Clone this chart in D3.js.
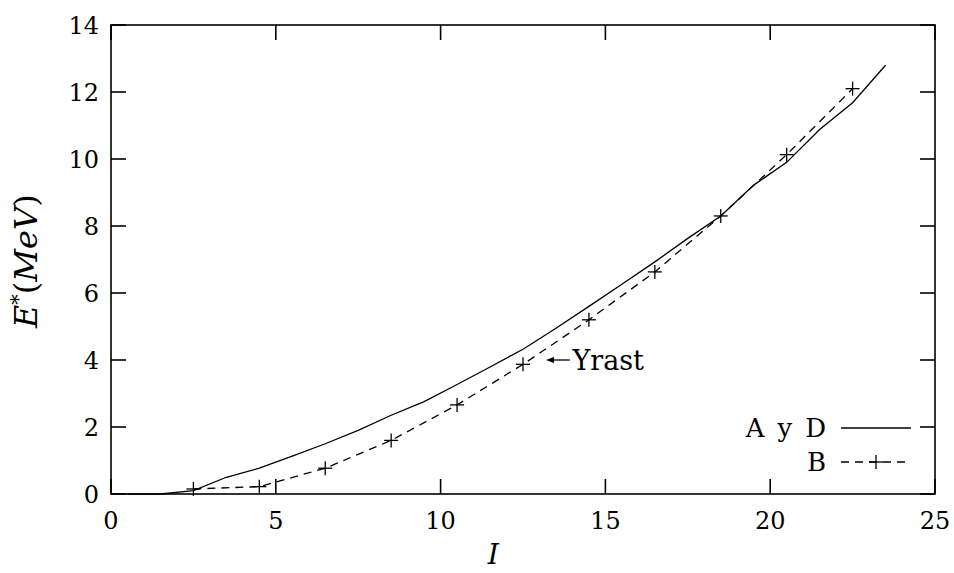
<!DOCTYPE html>
<html>
<head>
<meta charset="utf-8">
<script src="https://cdn.jsdelivr.net/npm/d3@7"></script>
<style>
  html, body { margin: 0; padding: 0; background: #fff; }
</style>
</head>
<body>
<svg id="chart" width="954" height="573" font-family="'DejaVu Serif', serif"></svg>
<script>
// Spin values I and excitation energies E* (MeV)
const spinAD = [0.5, 1.5, 2.5, 3.5, 4.5, 5.5, 6.5, 7.5, 8.5, 9.5, 10.5, 11.5, 12.5, 13.5, 14.5, 15.5, 16.5, 17.5, 18.5, 19.5, 20.5, 21.5, 22.5, 23.5];
const energyAD = [0, 0, 0.1, 0.5, 0.77, 1.13, 1.5, 1.9, 2.35, 2.76, 3.27, 3.79, 4.32, 4.95, 5.6, 6.26, 6.93, 7.63, 8.3, 9.22, 9.9, 10.88, 11.68, 12.8];
const spinB = [2.5, 4.5, 6.5, 8.5, 10.5, 12.5, 14.5, 16.5, 18.5, 20.5, 22.5];
const energyB = [0.15, 0.22, 0.77, 1.6, 2.66, 3.87, 5.2, 6.63, 8.3, 10.13, 12.1];
const xTicks = [0, 5, 10, 15, 20, 25];
const yTicks = [0, 2, 4, 6, 8, 10, 12, 14];
const legendLabels = ["A y D", "B"];

const svg = d3.select("#chart");
const plotL = 111, plotR = 935, plotT = 25, plotB = 494;

const x = d3.scaleLinear().domain([0, 25]).range([plotL, plotR]);
const y = d3.scaleLinear().domain([0, 14]).range([plotB, plotT]);

const tickLen = 15;

// frame
svg.append("rect")
  .attr("x", plotL).attr("y", plotT)
  .attr("width", plotR - plotL).attr("height", plotB - plotT)
  .attr("fill", "none").attr("stroke", "#000").attr("stroke-width", 1.6);

// inward ticks, mirrored on all four sides
const tickG = svg.append("g").attr("stroke", "#000").attr("stroke-width", 1.6);
xTicks.forEach(t => {
  tickG.append("line").attr("x1", x(t)).attr("x2", x(t)).attr("y1", plotB).attr("y2", plotB - tickLen);
  tickG.append("line").attr("x1", x(t)).attr("x2", x(t)).attr("y1", plotT).attr("y2", plotT + tickLen);
});
yTicks.forEach(t => {
  tickG.append("line").attr("x1", plotL).attr("x2", plotL + tickLen).attr("y1", y(t)).attr("y2", y(t));
  tickG.append("line").attr("x1", plotR).attr("x2", plotR - tickLen).attr("y1", y(t)).attr("y2", y(t));
});

// tick labels
svg.append("g").selectAll("text").data(xTicks).join("text")
  .attr("x", d => x(d)).attr("y", plotB + 35)
  .attr("text-anchor", "middle").attr("font-size", 24)
  .text(d => d);
svg.append("g").selectAll("text").data(yTicks).join("text")
  .attr("x", plotL - 12).attr("y", d => y(d) + 9)
  .attr("text-anchor", "end").attr("font-size", 24)
  .text(d => d);

// axis titles
svg.append("text")
  .attr("x", x(11.6)).attr("y", 564)
  .attr("text-anchor", "middle").attr("font-size", 28).attr("font-style", "italic")
  .text("I");
const yt = svg.append("text")
  .attr("transform", "translate(37," + y(6.95) + ") rotate(-90)")
  .attr("text-anchor", "middle").attr("font-size", 32);
yt.append("tspan").attr("font-style", "italic").text("E");
yt.append("tspan").attr("font-size", 21).attr("dy", -12).text("*");
yt.append("tspan").attr("dy", 12).text("(");
yt.append("tspan").attr("font-style", "italic").text("MeV");
yt.append("tspan").text(")");

// series
const line = d3.line().x(d => x(d[0])).y(d => y(d[1]));
const dataAD = spinAD.map((s, i) => [s, energyAD[i]]);
const dataB = spinB.map((s, i) => [s, energyB[i]]);

svg.append("path").datum(dataAD)
  .attr("d", line).attr("fill", "none").attr("stroke", "#000").attr("stroke-width", 1.3);
svg.append("path").datum(dataB)
  .attr("d", line).attr("fill", "none").attr("stroke", "#000").attr("stroke-width", 1.3)
  .attr("stroke-dasharray", "8,6");

const cs = 7;
function cross(g, cx, cy) {
  g.append("line").attr("x1", cx - cs).attr("x2", cx + cs).attr("y1", cy).attr("y2", cy);
  g.append("line").attr("x1", cx).attr("x2", cx).attr("y1", cy - cs).attr("y2", cy + cs);
}
const crossG = svg.append("g").attr("stroke", "#000").attr("stroke-width", 1.3);
dataB.forEach(d => cross(crossG, x(d[0]), y(d[1])));

// Yrast annotation arrow
const ay = y(4.0);
svg.append("line").attr("x1", x(13.2) + 2).attr("x2", x(13.92)).attr("y1", ay).attr("y2", ay)
  .attr("stroke", "#000").attr("stroke-width", 1.3);
svg.append("path")
  .attr("d", `M${x(13.2)},${ay} l8,-3 l0,6 z`).attr("fill", "#000");
svg.append("text")
  .attr("x", x(14.0)).attr("y", ay + 10)
  .attr("font-size", 27).text("Yrast");

// legend
const lg = svg.append("g");
const ly = [428, 462];
lg.append("text").attr("x", 826).attr("y", ly[0] + 9).attr("text-anchor", "end")
  .attr("font-size", 26).text(legendLabels[0].replace(/ /g, "\u2002"));
lg.append("text").attr("x", 826).attr("y", ly[1] + 9).attr("text-anchor", "end")
  .attr("font-size", 26).text(legendLabels[1]);
lg.append("line").attr("x1", 841).attr("x2", 911).attr("y1", ly[0]).attr("y2", ly[0])
  .attr("stroke", "#000").attr("stroke-width", 1.3);
lg.append("line").attr("x1", 841).attr("x2", 911).attr("y1", ly[1]).attr("y2", ly[1])
  .attr("stroke", "#000").attr("stroke-width", 1.3).attr("stroke-dasharray", "8,6");
const lcg = lg.append("g").attr("stroke", "#000").attr("stroke-width", 1.3);
cross(lcg, 876, ly[1]);
</script>
</body>
</html>
